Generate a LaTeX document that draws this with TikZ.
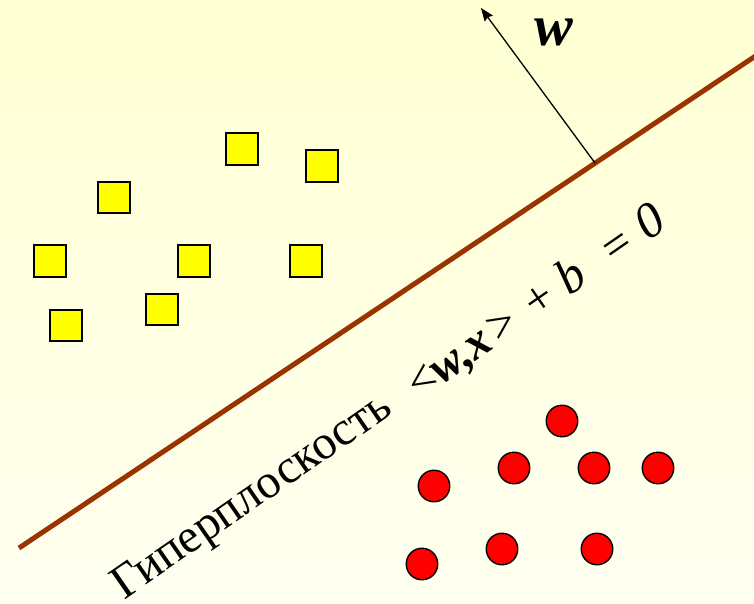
\documentclass[tikz,border=0pt]{standalone}
\usepackage{fontspec}
\setmainfont{Liberation Serif}
\usetikzlibrary{arrows.meta}
\definecolor{bgtop}{RGB}{255,255,210}
\definecolor{bgbot}{RGB}{255,255,240}
\definecolor{plane}{RGB}{153,51,0}
\definecolor{sqfill}{RGB}{255,255,0}
\definecolor{dotfill}{RGB}{255,0,0}
\tikzset{
  sq/.style={draw=black, line width=1.6pt, fill=sqfill, minimum size=31.5pt, inner sep=0pt},
  dot/.style={draw=black, line width=1.4pt, fill=dotfill, circle, minimum size=31.5pt, inner sep=0pt},
  hplane/.style={draw=plane, line width=5pt},
  normal/.style={draw=black, line width=1.3pt, -{Stealth[length=13pt,width=10pt,inset=1.5pt]}},
  lbl/.style={inner sep=0pt, font=\fontsize{48}{50}\selectfont},
}
\begin{document}
\begin{tikzpicture}[x=1pt,y=-1pt]
\useasboundingbox (0,0) rectangle (754,603);
\shade[top color=bgtop, bottom color=bgbot] (0,0) rectangle (754,603);
% hyperplane
\coordinate (hpA) at (19,548);
\coordinate (hpB) at (760,53);
\draw[hplane] (hpA) -- (hpB);
% normal vector
\coordinate (wbase) at (595,163);
\coordinate (wtip) at (481,8);
\draw[normal] (wbase) -- (wtip);
\node[anchor=base, inner sep=0pt, font=\fontsize{58}{60}\selectfont\bfseries\itshape] (wlab) at (554,45) {w};
% squares
\node[sq] (s1) at (242,149) {};
\node[sq] (s2) at (322,166) {};
\node[sq] (s3) at (114,197.5) {};
\node[sq] (s4) at (50,261) {};
\node[sq] (s5) at (194,261) {};
\node[sq] (s6) at (306,261) {};
\node[sq] (s7) at (162,309.5) {};
\node[sq] (s8) at (66,325.5) {};
% circles
\node[dot] (c1) at (562,421) {};
\node[dot] (c2) at (434,486) {};
\node[dot] (c3) at (514,468) {};
\node[dot] (c4) at (594,468) {};
\node[dot] (c5) at (658,468) {};
\node[dot] (c6) at (422,564) {};
\node[dot] (c7) at (502,549) {};
\node[dot] (c8) at (597,549) {};
% label along the hyperplane
\begin{scope}[shift={(123.9,600.2)}, rotate=34.7, transform shape]
\node[lbl, anchor=base west] (word) at (0,0) {Гиперплоскость};
\node[lbl, anchor=base west] (lt) at (357,4) {<};
\node[lbl, anchor=base west, font=\fontsize{48}{50}\selectfont\bfseries\itshape] (wx) at (383,4) {w,x};
\node[lbl, anchor=base west] (gt) at (454,4) {>};
\node[lbl, anchor=base] (plus) at (513,4) {+};
\node[lbl, anchor=base, font=\fontsize{50}{52}\selectfont\itshape] (bb) at (552,4) {b};
\node[lbl, anchor=base] (eq) at (608,4) {=};
\node[lbl, anchor=base, font=\fontsize{50}{52}\selectfont\itshape] (zero) at (648,4) {0};
\end{scope}
\end{tikzpicture}
\end{document}
